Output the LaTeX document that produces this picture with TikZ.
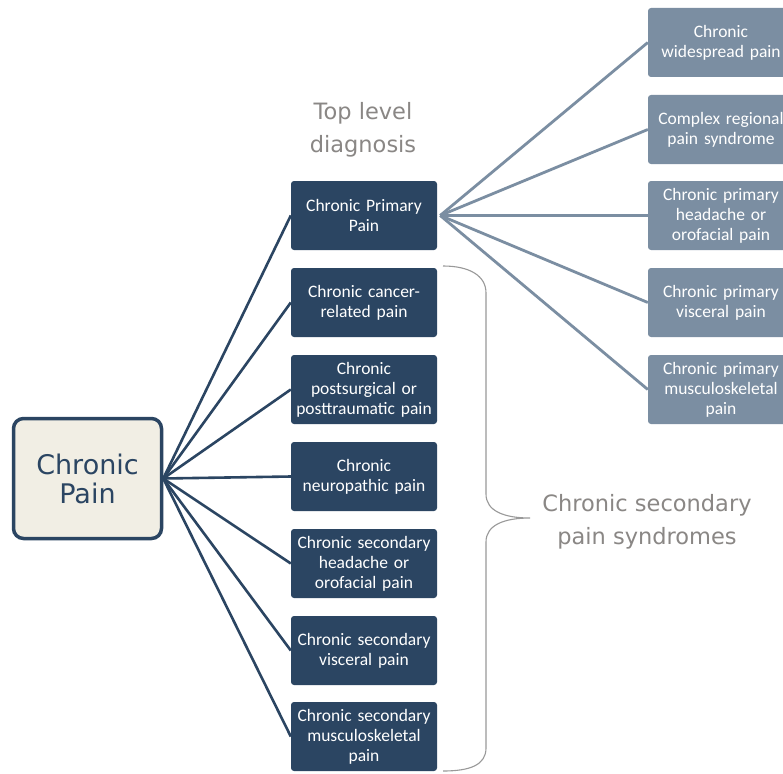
\documentclass[tikz,border=0pt]{standalone}
\usepackage{fontspec}
\setmainfont{Carlito}
\newfontfamily\verd{DejaVu Sans}
\definecolor{navy}{HTML}{2B4562}
\definecolor{slate}{HTML}{7B8EA2}
\definecolor{cream}{HTML}{F1EEE4}
\definecolor{labgray}{HTML}{8A8785}
\begin{document}
\begin{tikzpicture}[x=1pt,y=-1pt,
  midbox/.style={rectangle, rounded corners=3pt, fill=navy, text=white,
    minimum width=146pt, minimum height=69pt, text width=144pt, align=center,
    inner sep=0pt, font=\fontsize{17.5}{20}\selectfont},
  rightbox/.style={midbox, fill=slate},
  rootbox/.style={rectangle, rounded corners=10pt, draw=navy, line width=3.5pt,
    fill=cream, text=navy, minimum width=148pt, minimum height=120pt,
    align=center, inner sep=0pt, font=\verd\fontsize{27}{29}\selectfont},
  label/.style={text=labgray, align=center, font=\verd\fontsize{22.5}{33}\selectfont},
  navyline/.style={draw=navy, line width=2.6pt},
  slateline/.style={draw=slate, line width=2.8pt},
  bracestyle/.style={draw=gray!80, line width=1.1pt}]
\useasboundingbox (0,0) rectangle (783,773);
\clip (0,0) rectangle (783,773);
\fill[white] (0,0) rectangle (783,773);

\node[rootbox] (root) at (87.5,478.5) {Chronic\\Pain};

\node[midbox] (m1) at (364,215.5) {Chronic Primary\\Pain};
\node[midbox] (m2) at (364,302.5) {Chronic cancer-\\related pain};
\node[midbox] (m3) at (364,389.5) {Chronic\\postsurgical or\\posttraumatic pain};
\node[midbox] (m4) at (364,476.5) {Chronic\\neuropathic pain};
\node[midbox] (m5) at (364,563.5) {Chronic secondary\\headache or\\orofacial pain};
\node[midbox] (m6) at (364,650.5) {Chronic secondary\\visceral pain};
\node[midbox] (m7) at (364,736.5) {Chronic secondary\\musculoskeletal\\pain};

\node[rightbox] (r1) at (721,42.5) {Chronic\\widespread pain};
\node[rightbox] (r2) at (721,129.5) {Complex regional\\pain syndrome};
\node[rightbox] (r3) at (721,215.5) {Chronic primary\\headache or\\orofacial pain};
\node[rightbox] (r4) at (721,302.5) {Chronic primary\\visceral pain};
\node[rightbox] (r5) at (721,389.5) {Chronic primary\\musculoskeletal\\pain};

\node[label] (top) at (363,130) {Top level\\diagnosis};
\node[label] (sec) at (647,522) {Chronic secondary\\pain syndromes};

\coordinate (rc) at ([xshift=0pt]root.east);
\foreach \m in {m1,m2,m3,m4,m5,m6,m7}
  \draw[navyline] (rc) -- (\m.west);

\coordinate (pc) at ([xshift=3pt]m1.east);
\foreach \r in {r1,r2,r3,r4,r5}
  \draw[slateline] (pc) -- (\r.west);

\coordinate (bt) at (443,266);
\coordinate (bb) at (443,771);
\coordinate (btip) at (530,518);
\draw[bracestyle] (bt) .. controls (470,266) and (486,276) .. (486,293)
  -- (486,494) .. controls (486,511) and (504,518) .. (btip)
  .. controls (504,518) and (486,525) .. (486,542)
  -- (486,748) .. controls (486,765) and (470,771) .. (bb);
\end{tikzpicture}
\end{document}
